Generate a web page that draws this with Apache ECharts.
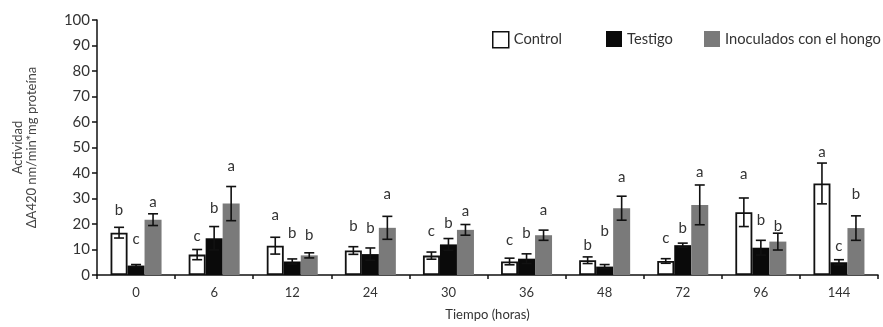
<!DOCTYPE html>
<html>
<head>
<meta charset="utf-8">
<script src="https://cdn.jsdelivr.net/npm/echarts@6/dist/echarts.min.js"></script>
<style>html,body{margin:0;padding:0;background:#fff;}#c{width:883px;height:327px;}</style>
</head>
<body>
<div id="c"></div>
<script>
var categories = ['0', '6', '12', '24', '30', '36', '48', '72', '96', '144'];
var control    = [16.6, 8.0, 11.5, 9.6, 7.6, 5.3, 5.8, 5.5, 24.6, 35.9];
var controlErr = [2.1, 2.0, 3.3, 1.5, 1.4, 1.3, 1.3, 0.9, 5.6, 8.0];
var testigo    = [3.7, 14.4, 5.3, 8.2, 12.0, 6.4, 3.3, 11.7, 10.7, 5.0];
var testigoErr = [0.4, 4.6, 1.0, 2.4, 2.3, 1.9, 0.8, 0.8, 2.9, 1.0];
var inoc       = [21.7, 28.0, 7.7, 18.5, 17.7, 15.6, 26.2, 27.5, 13.1, 18.4];
var inocErr    = [2.3, 6.7, 1.0, 4.5, 2.1, 2.0, 4.7, 7.8, 3.3, 4.8];
var controlLetters = ['b', 'c', 'a', 'b', 'c', 'c', 'b', 'c', 'a', 'a'];
var testigoLetters = ['c', 'b', 'b', 'b', 'b', 'b', 'b', 'b', 'b', 'c'];
var inocLetters    = ['a', 'a', 'b', 'a', 'a', 'a', 'a', 'a', 'b', 'b'];
var controlLetterY = [25.3, 15.3, 23.5, 19.2, 17.0, 13.7, 11.8, 14.6, 39.6, 48.0];
var testigoLetterY = [14.1, 26.4, 16.6, 18.3, 20.3, 16.6, 17.3, 18.3, 21.6, 11.4];
var inocLetterY    = [28.4, 42.7, 15.7, 31.8, 25.1, 25.5, 38.5, 40.5, 19.3, 31.8];
var seriesNames = ['Control', 'Testigo', 'Inoculados con el hongo'];
var yTicks = [0, 10, 20, 30, 40, 50, 60, 70, 80, 90, 100];

var BW = 17;
var FONT = 'Lato';

function errSeries(vals, errs, idx) {
  var data = vals.map(function (v, i) { return [i, v, errs[i]]; });
  return {
    type: 'custom', z: 10, silent: true,
    renderItem: function (params, api) {
      var c = api.value(0), v = api.value(1), e = api.value(2);
      var top = api.coord([c, v + e]);
      var bot = api.coord([c, v - e]);
      var x = top[0] + (idx - 1) * BW;
      var hw = 5;
      var st = { stroke: '#111', lineWidth: 1.6 };
      return { type: 'group', children: [
        { type: 'line', shape: { x1: x, y1: top[1], x2: x, y2: bot[1] }, style: st },
        { type: 'line', shape: { x1: x - hw, y1: top[1], x2: x + hw, y2: top[1] }, style: st },
        { type: 'line', shape: { x1: x - hw, y1: bot[1], x2: x + hw, y2: bot[1] }, style: st }
      ]};
    },
    data: data
  };
}
function letterSeries(letters, ys, idx) {
  var data = ys.map(function (y, i) { return [i, y]; });
  return {
    type: 'custom', z: 11, silent: true,
    renderItem: function (params, api) {
      var p = api.coord([api.value(0), api.value(1)]);
      return { type: 'text', x: p[0] + (idx - 1) * BW, y: p[1],
        style: { text: letters[params.dataIndex], fill: '#333', font: '15px ' + FONT,
          align: 'center', verticalAlign: 'middle' } };
    },
    data: data
  };
}
function legendAt(left, item) {
  return {
    left: left, top: 31, padding: 0, itemWidth: 16, itemHeight: 16,
    textStyle: { fontFamily: FONT, fontSize: 14.7, color: '#333' },
    data: [item]
  };
}

var chart = echarts.init(document.getElementById('c'));
chart.setOption({
  animation: false,
  backgroundColor: '#fff',
  textStyle: { fontFamily: FONT },
  grid: { left: 97, right: 5, top: 20, bottom: 52, containLabel: false },
  legend: [
    legendAt(492, { name: seriesNames[0], icon: 'rect', itemStyle: { color: '#fff', borderColor: '#111', borderWidth: 1.5 } }),
    legendAt(606, { name: seriesNames[1], icon: 'rect' }),
    legendAt(704, { name: seriesNames[2], icon: 'rect' })
  ],
  xAxis: {
    type: 'category', data: categories,
    name: 'Tiempo (horas)', nameLocation: 'middle', nameGap: 33,
    nameTextStyle: { fontFamily: FONT, fontSize: 13, color: '#333' },
    axisLine: { lineStyle: { color: '#111', width: 1.5 } },
    axisTick: { show: true, length: 4, lineStyle: { color: '#111', width: 1.5 } },
    axisLabel: { fontFamily: FONT, fontSize: 13, color: '#333', margin: 11 }
  },
  yAxis: {
    type: 'value', min: 0, max: 100, interval: 10,
    name: 'Actividad\nΔA420 nm/min*mg proteína', nameLocation: 'middle', nameGap: 58,
    nameTextStyle: { fontFamily: FONT, fontSize: 13, color: '#444', lineHeight: 14 },
    axisLine: { show: true, lineStyle: { color: '#111', width: 1.5 } },
    axisTick: { show: true, length: 5, lineStyle: { color: '#111', width: 1.5 } },
    splitLine: { show: false },
    axisLabel: { fontFamily: FONT, fontSize: 15, color: '#333', margin: 7,
      formatter: function (v) { return yTicks.indexOf(v) >= 0 ? String(v) : ''; } }
  },
  series: [
    { name: seriesNames[0], type: 'bar', data: control, barWidth: BW, barGap: '0%',
      itemStyle: { color: '#fff', borderColor: '#111', borderWidth: 1.8 } },
    { name: seriesNames[1], type: 'bar', data: testigo, barWidth: BW, barGap: '0%',
      itemStyle: { color: '#0a0a0a' } },
    { name: seriesNames[2], type: 'bar', data: inoc, barWidth: BW, barGap: '0%',
      itemStyle: { color: '#7a7a7a' } },
    errSeries(control, controlErr, 0),
    errSeries(testigo, testigoErr, 1),
    errSeries(inoc, inocErr, 2),
    letterSeries(controlLetters, controlLetterY, 0),
    letterSeries(testigoLetters, testigoLetterY, 1),
    letterSeries(inocLetters, inocLetterY, 2)
  ]
});
</script>
</body>
</html>
